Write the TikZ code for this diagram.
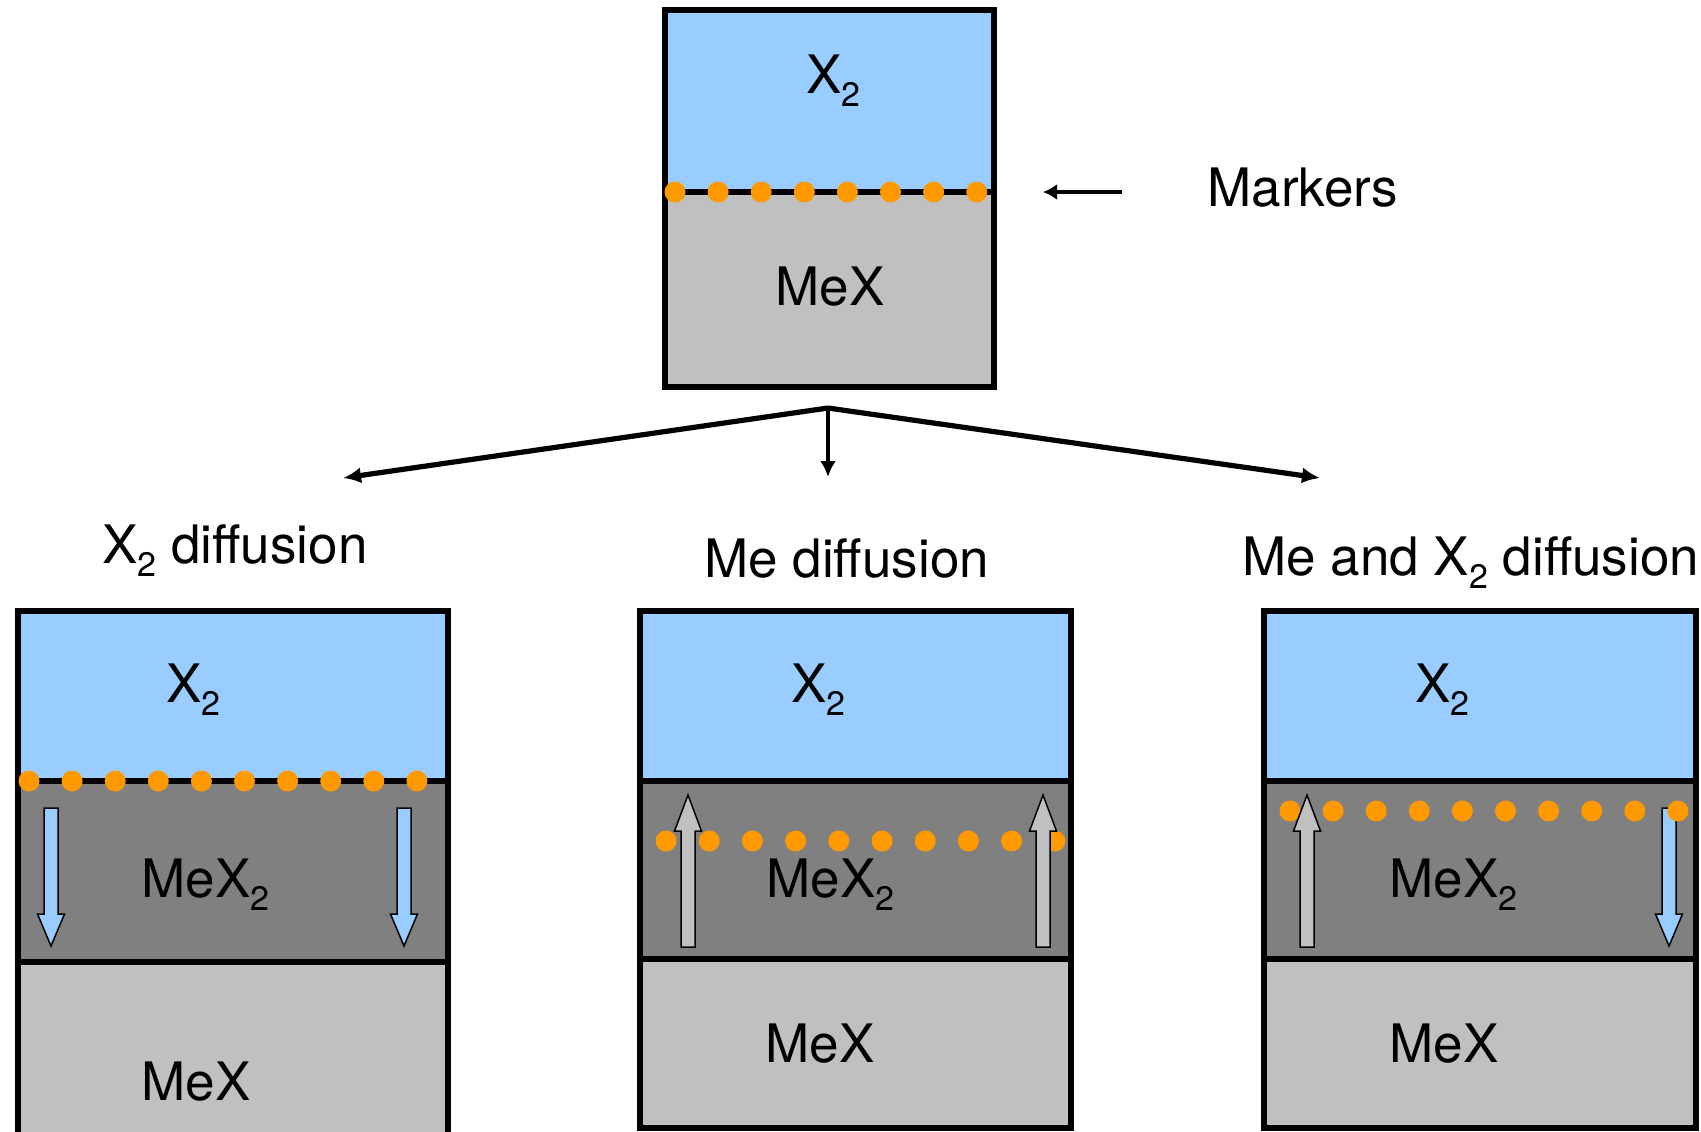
\documentclass[tikz,border=0pt]{standalone}
\usepackage{fontspec}
\setmainfont{TeX Gyre Heros}
\usetikzlibrary{arrows.meta}
\definecolor{xblue}{HTML}{99CCFF}
\definecolor{lgray}{HTML}{C0C0C0}
\definecolor{dgray}{HTML}{808080}
\definecolor{morange}{HTML}{FF9900}
\newcommand\sbtwo{\raisebox{-6.6pt}{\fontsize{17}{18}\selectfont 2}}
\newcommand\blockarr[5]{%
  \filldraw[fill=#5, draw=black, line width=0.75pt, line join=miter]
    (#1-7,#2) -- (#1+7,#2) -- (#1+7,#3) -- (#1+13.5,#3) -- (#1,#4)
    -- (#1-13.5,#3) -- (#1-7,#3) -- cycle;}
\begin{document}
\begin{tikzpicture}[x=0.5pt,y=-0.5pt,
  lbl/.style={anchor=base west, inner sep=0pt, font=\fontsize{26.5}{30}\selectfont},
  edgeline/.style={line width=3pt},
  mdot/.style={fill=morange},
  bigarr/.style={line width=2.6pt, -{Latex[length=9pt,width=8pt]}},
  midarr/.style={line width=2.2pt, -{Latex[length=8pt,width=8pt]}},
  markarr/.style={line width=2.4pt, -{Latex[length=7pt,width=8pt]}}]
\useasboundingbox (0,0) rectangle (1701,1131);
\clip (0,0) rectangle (1701,1131);
\fill[white] (0,0) rectangle (1701,1131);

% ---------- top box ----------
\fill[xblue] (665,10) rectangle (994,192);
\fill[lgray] (665,192) rectangle (994,387);
\draw[edgeline] (665,192) -- (994,192);
\draw[edgeline] (665,10) rectangle (994,387);
\foreach \i in {0,...,7} \fill[mdot] (675+43.1*\i,192) circle (5.25pt);
\node[lbl] (tx2) at (806,93) {X\sbtwo};
\node[lbl] (tmex) at (775,305) {MeX};

% markers
\node[lbl] (markers) at (1207,206) {Markers};
\coordinate (mstart) at (1122,192);
\coordinate (mend) at (1043,192);
\draw[markarr] (mstart) -- (mend);

% spreading arrows
\coordinate (apex) at (828,408);
\coordinate (lt) at (343,478);
\coordinate (mt) at (828,477);
\coordinate (rt) at (1320,478);
\draw[bigarr] (apex) -- (lt);
\draw[bigarr] (apex) -- (rt);
\draw[midarr] (apex) -- (mt);

% labels
\node[lbl] (l1) at (102,563) {X\sbtwo\ diffusion};
\node[lbl] (l2) at (704,577) {Me diffusion};
\node[lbl] (l3) at (1242,575) {Me and X\sbtwo\ diffusion};

% ---------- box 1 ----------
\fill[xblue] (17.5,611) rectangle (447.5,781);
\fill[dgray] (17.5,781) rectangle (447.5,962);
\fill[lgray] (17.5,962) rectangle (447.5,1160);
\draw[edgeline] (17.5,781) -- (447.5,781);
\draw[edgeline] (17.5,962) -- (447.5,962);
\draw[edgeline] (17.5,1160) -- (17.5,611) -- (447.5,611) -- (447.5,1160);
\foreach \i in {0,...,9} \fill[mdot] (29+43.1*\i,781) circle (5.25pt);
\blockarr{51}{808}{914}{946}{xblue}
\blockarr{404}{808}{914}{946}{xblue}
\node[lbl] at (166,702) {X\sbtwo};
\node[lbl] at (141,897) {MeX\sbtwo};
\node[lbl] at (141,1100) {MeX};

% ---------- box 2 ----------
\fill[xblue] (640,611) rectangle (1071,781);
\fill[dgray] (640,781) rectangle (1071,959);
\fill[lgray] (640,959) rectangle (1071,1128);
\draw[edgeline] (640,781) -- (1071,781);
\draw[edgeline] (640,959) -- (1071,959);
\draw[edgeline] (640,611) rectangle (1071,1128);
\foreach \i in {0,...,9} \fill[mdot] (666+43.2*\i,841) circle (5.25pt);
\blockarr{688}{947}{831}{795}{lgray}
\blockarr{1043}{947}{831}{795}{lgray}
\node[lbl] at (791,702) {X\sbtwo};
\node[lbl] at (766,897) {MeX\sbtwo};
\node[lbl] at (765,1062) {MeX};

% ---------- box 3 ----------
\fill[xblue] (1264,611) rectangle (1696,781);
\fill[dgray] (1264,781) rectangle (1696,959);
\fill[lgray] (1264,959) rectangle (1696,1128);
\draw[edgeline] (1264,781) -- (1696,781);
\draw[edgeline] (1264,959) -- (1696,959);
\draw[edgeline] (1264,611) rectangle (1696,1128);
\blockarr{1669}{808}{914}{946}{xblue}
\foreach \i in {0,...,9} \fill[mdot] (1290+43.1*\i,811) circle (5.25pt);
\blockarr{1307}{947}{831}{795}{lgray}
\node[lbl] at (1415,702) {X\sbtwo};
\node[lbl] at (1389,897) {MeX\sbtwo};
\node[lbl] at (1389,1062) {MeX};
\end{tikzpicture}
\end{document}
